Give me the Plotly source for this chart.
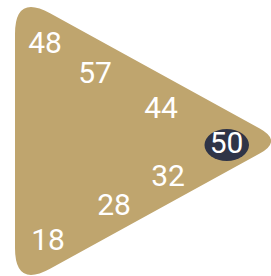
import math
import plotly.graph_objects as go

# data
labels = ["48", "57", "44", "50", "32", "28", "18"]
values = [48, 57, 44, 50, 32, 28, 18]
label_x = [45, 95, 161, 226.5, 168, 114, 48]
label_y = [45, 75.5, 110.5, 145.5, 178.5, 207.5, 242.5]
highlight_index = 3

# rounded triangle (vertices and per-corner rounding distance)
verts = [(15, -6), (282.5, 141), (15, 288)]
radii = [40, 26, 40]


def rounded_path(pts, rads):
    n = len(pts)
    segs = []

    def towards(a, b, d):
        dx, dy = b[0] - a[0], b[1] - a[1]
        L = math.hypot(dx, dy)
        return (a[0] + dx / L * d, a[1] + dy / L * d)

    for i in range(n):
        p0, p1, p2 = pts[i - 1], pts[i], pts[(i + 1) % n]
        segs.append((towards(p1, p0, rads[i]), p1, towards(p1, p2, rads[i])))
    path = f"M {segs[0][2][0]},{segs[0][2][1]}"
    for i in range(1, n + 1):
        s, c, e = segs[i % n]
        path += f" L {s[0]},{s[1]} Q {c[0]},{c[1]} {e[0]},{e[1]}"
    return path + " Z"


fig = go.Figure()
fig.add_shape(type="path", path=rounded_path(verts, radii), fillcolor="#BFA56E",
              line=dict(width=0), layer="below")
hx, hy = label_x[highlight_index], label_y[highlight_index]
fig.add_shape(type="circle", x0=hx - 22, x1=hx + 22.5, y0=hy - 16.5, y1=hy + 15.5,
              fillcolor="#2F3447", line=dict(width=0), layer="below")
fig.add_trace(go.Scatter(
    x=label_x, y=label_y, mode="text", text=labels,
    textfont=dict(family="Roboto", size=30, color="white"),
    hoverinfo="skip", showlegend=False,
))
fig.update_xaxes(range=[0, 271], visible=False, fixedrange=True)
fig.update_yaxes(range=[276, 0], visible=False, fixedrange=True)
fig.update_layout(width=271, height=276, margin=dict(l=0, r=0, t=0, b=0),
                  paper_bgcolor="white", plot_bgcolor="white")
fig.write_html("out.html", config={"displayModeBar": False},
               post_script="document.body.style.margin='0';")
